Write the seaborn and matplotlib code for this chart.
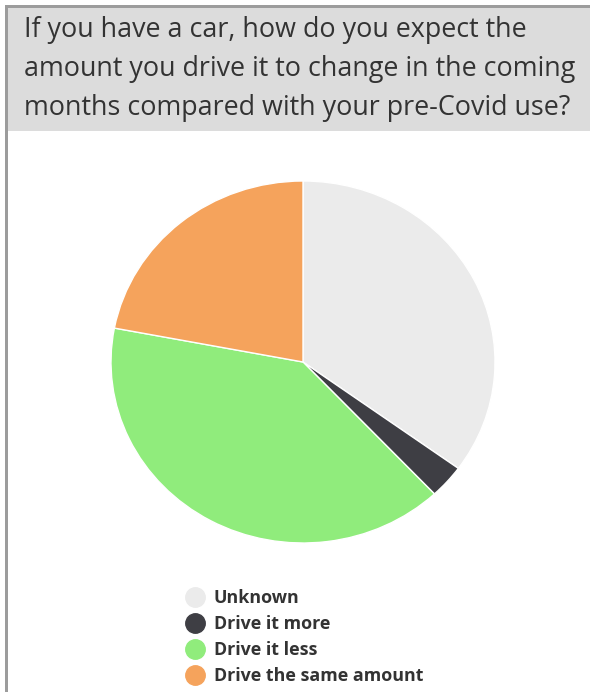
import matplotlib
matplotlib.use("Agg")
import matplotlib.pyplot as plt
import seaborn as sns
from matplotlib.patches import Rectangle
from matplotlib.lines import Line2D

labels = ["Unknown", "Drive it more", "Drive it less", "Drive the same amount"]
shares = [35.0, 3.0, 40.0, 22.0]
colors = ["#ebebeb", "#3e3e44", "#90ec7c", "#f5a35c"]
title = "If you have a car, how do you expect the\namount you drive it to change in the coming\nmonths compared with your pre-Covid use?"

sns.set_theme(style="white")
plt.rcParams["font.family"] = ["Open Sans", "DejaVu Sans"]

W, H = 590, 692
fig = plt.figure(figsize=(W / 100, H / 100), dpi=100, facecolor="white")

# outer frame + title band
fig.patches.append(Rectangle((5 / W, 0), 3 / W, 1 - 5 / H, transform=fig.transFigure,
                             facecolor="#9c9c9c", edgecolor="none", zorder=-3))
fig.patches.append(Rectangle((5 / W, 1 - 8 / H), 1, 3 / H, transform=fig.transFigure,
                             facecolor="#9c9c9c", edgecolor="none", zorder=-3))
fig.patches.append(Rectangle((8 / W, 1 - 131 / H), 1, 123 / H, transform=fig.transFigure,
                             facecolor="#dcdcdc", edgecolor="none", zorder=-3))
fig.text(24 / W, 1 - 69 / H, title, fontsize=19.4, color="#333333",
         va="center", ha="left", linespacing=1.5, zorder=-1)

# pie (slightly wider than tall, as in the source screenshot)
rx, ry = 192, 181
cx, cy = 303, 362
ax = fig.add_axes([(cx - rx) / W, (H - cy - ry) / H, 2 * rx / W, 2 * ry / H])
ax.pie(shares, colors=colors, startangle=90, counterclock=False,
       wedgeprops=dict(edgecolor="white", linewidth=1))
ax.set_xlim(-1, 1)
ax.set_ylim(-1, 1)
ax.set_aspect("auto")
ax.axis("off")

handles = [Line2D([], [], marker="o", linestyle="none", markersize=14,
                  markerfacecolor=c, markeredgecolor=c) for c in colors]
leg = fig.legend(handles, labels, loc="upper left",
                 bbox_to_anchor=(184 / W, 1 - 589 / H), frameon=False,
                 prop=dict(size=12.9, weight="bold"), labelcolor="#333333",
                 handletextpad=0.45, labelspacing=0.45, handlelength=1.2,
                 borderpad=0, borderaxespad=0)

fig.savefig("out.png", dpi=100)
